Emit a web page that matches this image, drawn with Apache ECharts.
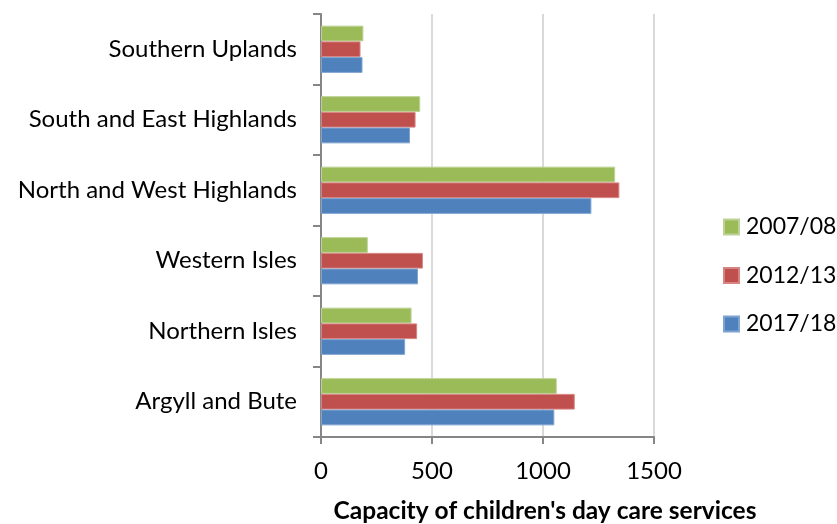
<!DOCTYPE html>
<html>
<head>
<meta charset="utf-8">
<script src="https://cdn.jsdelivr.net/npm/echarts@6/dist/echarts.min.js"></script>
<style>
  html, body { margin: 0; padding: 0; background: #ffffff; }
  #chart { width: 837px; height: 524px; }
</style>
</head>
<body>
<div id="chart"></div>
<script>
// Areas, listed bottom to top on the value chart
const areas = [
  'Argyll and Bute',
  'Northern Isles',
  'Western Isles',
  'North and West Highlands',
  'South and East Highlands',
  'Southern Uplands'
];

// Capacity of children's day care services by year
const cap2017 = [1051, 379, 437, 1218, 401, 187];
const cap2012 = [1143, 433, 459, 1344, 426, 178];
const cap2007 = [1062, 408, 211, 1325, 447, 191];

const xTicks = { min: 0, max: 1500, interval: 500 };

const FONT = 'Lato';

const chart = echarts.init(document.getElementById('chart'), null, { renderer: 'canvas' });

function barSeries(name, data, color, edge) {
  return {
    name: name,
    type: 'bar',
    data: data,
    barGap: '0%',
    barCategoryGap: '33%',
    itemStyle: { color: color, borderColor: edge, borderWidth: 1 },
    emphasis: { disabled: true },
    animation: false
  };
}

chart.setOption({
  animation: false,
  grid: { left: 321, right: 183, top: 14, bottom: 87, containLabel: false },
  title: {
    text: "Capacity of children's day care services",
    left: 540,
    top: 494,
    textAlign: 'center',
    textStyle: { fontFamily: FONT, fontWeight: 'bold', fontSize: 24.5, color: '#000000' }
  },
  legend: {
    orient: 'vertical',
    left: 723,
    top: 215,
    padding: 0,
    itemWidth: 15,
    itemHeight: 15,
    itemGap: 24.5,
    icon: 'rect',
    data: ['2007/08', '2012/13', '2017/18'],
    textStyle: { fontFamily: FONT, fontSize: 23, lineHeight: 24, color: '#000000', padding: [0, 0, 0, 2] }
  },
  xAxis: {
    type: 'value',
    min: xTicks.min,
    max: xTicks.max,
    interval: xTicks.interval,
    axisLine: { show: true, lineStyle: { color: '#868686', width: 2 } },
    axisTick: { show: true, length: 7, lineStyle: { color: '#868686', width: 2 } },
    axisLabel: { fontFamily: FONT, fontSize: 24, color: '#000000', margin: 22, formatter: function (v) { return String(v); } },
    splitLine: { show: true, lineStyle: { color: '#d9d9d9', width: 2 } }
  },
  yAxis: {
    type: 'category',
    data: areas,
    axisLine: { show: true, lineStyle: { color: '#868686', width: 2 } },
    axisTick: { show: true, length: 8, lineStyle: { color: '#868686', width: 2 } },
    axisLabel: { fontFamily: FONT, fontSize: 24, color: '#000000', margin: 24 },
    splitLine: { show: false }
  },
  series: [
    barSeries('2007/08', cap2007, '#9bbb59', '#bdd296'),
    barSeries('2012/13', cap2012, '#c0504d', '#d68482'),
    barSeries('2017/18', cap2017, '#4f81bd', '#7fa3d0')
  ]
});
</script>
</body>
</html>
